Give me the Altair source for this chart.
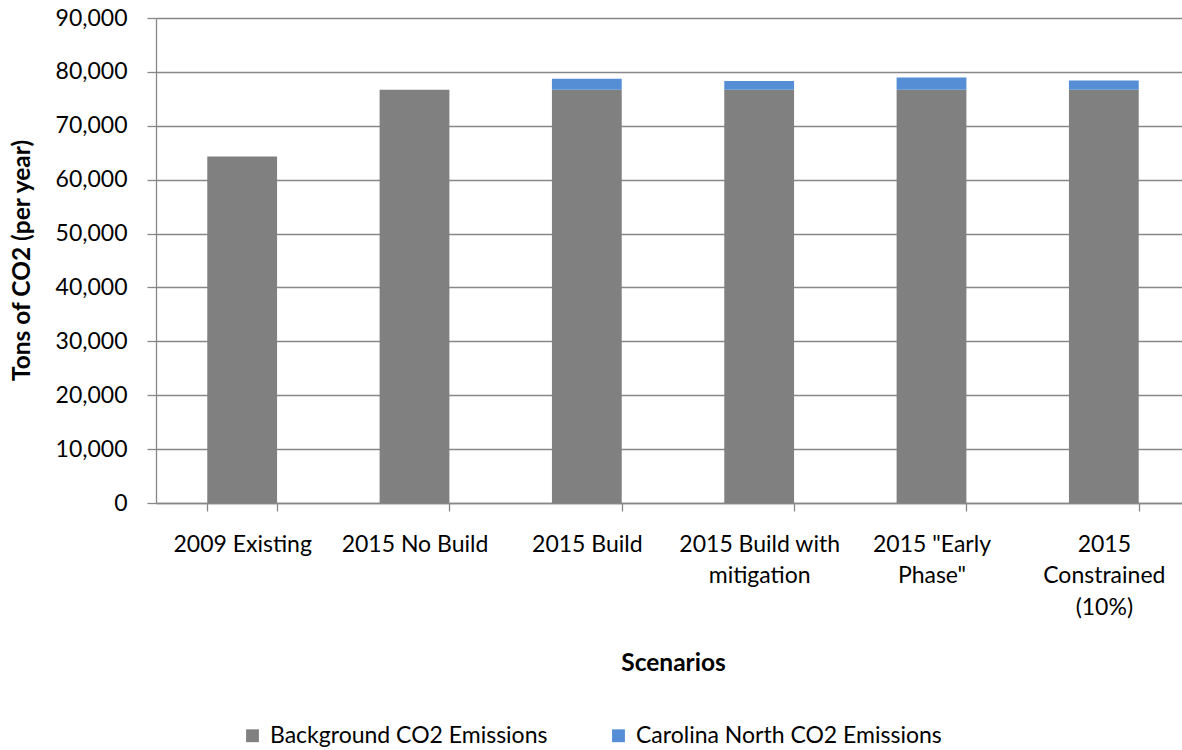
import json
import altair as alt
import pandas as pd

# Scenario names and how their axis labels wrap
scenarios = [
    "2009 Existing",
    "2015 No Build",
    "2015 Build",
    "2015 Build with mitigation",
    '2015 "Early Phase"',
    "2015 Constrained (10%)",
]
label_lines = [
    ["2009 Existing"],
    ["2015 No Build"],
    ["2015 Build"],
    ["2015 Build with", "mitigation"],
    ['2015 "Early', 'Phase"'],
    ["2015", "Constrained", "(10%)"],
]

# Annual CO2 emissions (tons)
background = [64300, 76700, 76700, 76700, 76700, 76700]
carolina_north = [0, 0, 2050, 1630, 2240, 1700]

series_names = ["Background CO2 Emissions", "Carolina North CO2 Emissions"]
series_colors = ["#808080", "#558ED5"]

rows = []
for i, s in enumerate(scenarios):
    rows.append({"Scenario": s, "Series": series_names[0], "Tons": background[i], "order": 0})
    rows.append({"Scenario": s, "Series": series_names[1], "Tons": carolina_north[i], "order": 1})
df = pd.DataFrame(rows)

# Multi-line labels for the category axis
label_expr = ""
for s, lines in zip(scenarios, label_lines):
    label_expr += f"datum.label == {json.dumps(s)} ? {json.dumps(lines)} : "
label_expr += "datum.label"

FONT = "Lato"
LABEL_SIZE = 23
TITLE_SIZE = 24.5
GRID = "#878787"
LEFT, TOP, W, H = 156, 18, 1026, 485

chart = (
    alt.Chart(df)
    .mark_bar()
    .encode(
        x=alt.X(
            "Scenario:N",
            sort=scenarios,
            scale=alt.Scale(range=[0, 1034], paddingInner=0.595, paddingOuter=0.2975),
            axis=alt.Axis(
                title="Scenarios",
                labelAngle=0,
                labelExpr=label_expr,
                labelFont=FONT,
                labelFontSize=LABEL_SIZE,
                labelColor="#000000",
                labelLineHeight=31.5,
                labelPadding=22,
                labelBaseline="top",
                tickBand="extent",
                tickSize=8,
                tickColor=GRID,
                tickWidth=1.3,
                domainColor=GRID,
                domainWidth=1.3,
                grid=False,
                titleFont=FONT,
                titleFontSize=TITLE_SIZE,
                titleFontWeight="bold",
                titleColor="#000000",
                titleX=517,
                titleY=160,
                titleBaseline="middle",
                labelOverlap=False,
            ),
        ),
        y=alt.Y(
            "Tons:Q",
            stack="zero",
            scale=alt.Scale(domain=[0, 90000], nice=False),
            axis=alt.Axis(
                title="Tons of CO2 (per year)",
                values=list(range(0, 90001, 10000)),
                format=",.0f",
                labelFont=FONT,
                labelFontSize=LABEL_SIZE,
                labelColor="#000000",
                labelPadding=20,
                tickSize=9,
                tickColor=GRID,
                tickWidth=1.3,
                domainColor=GRID,
                domainWidth=1.3,
                gridColor=GRID,
                gridWidth=1.3,
                titleFont=FONT,
                titleFontSize=TITLE_SIZE,
                titleFontWeight="bold",
                titleColor="#000000",
                titleX=-134,
                titleY=242,
                titleAngle=-90,
                titleAlign="center",
                titleBaseline="middle",
            ),
        ),
        color=alt.Color(
            "Series:N",
            scale=alt.Scale(domain=series_names, range=series_colors),
            legend=alt.Legend(
                title=None,
                orient="none",
                direction="horizontal",
                legendX=85,
                legendY=706,
                symbolType="square",
                symbolSize=165,
                symbolStrokeWidth=0,
                labelFont=FONT,
                labelFontSize=LABEL_SIZE,
                labelColor="#000000",
                labelLimit=0,
                labelOffset=6,
                columnPadding=59,
            ),
        ),
        order=alt.Order("order:Q"),
    )
    .properties(
        width=W,
        height=H,
        padding={"left": LEFT, "top": TOP, "right": 0, "bottom": 750 - TOP - H},
        autosize=alt.AutoSizeParams(type="none"),
    )
    .configure_view(stroke=None)
)

chart.save("out.html", embed_options={"renderer": "svg", "actions": False})
